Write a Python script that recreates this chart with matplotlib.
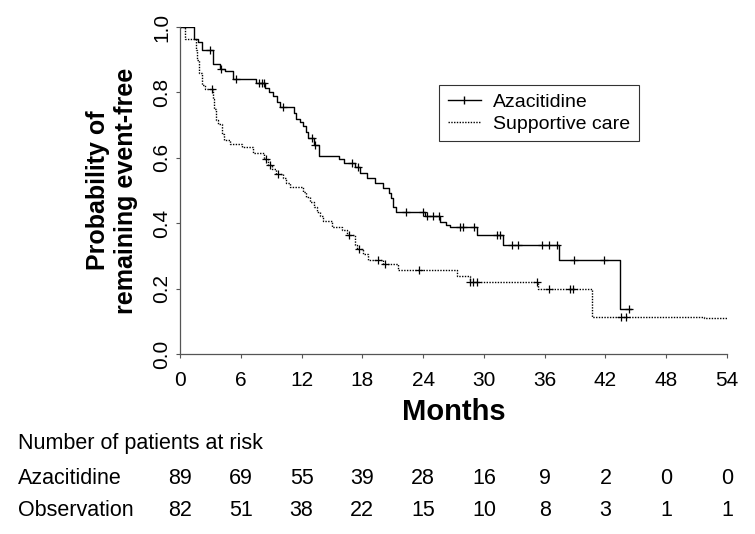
import numpy as np
import matplotlib.pyplot as plt
from matplotlib.transforms import blended_transform_factory

plt.rcParams['font.family'] = ['Liberation Sans', 'DejaVu Sans']

# Azacitidine: step times (months) and survival after each step
aza_t = [0, 1.4, 1.75, 2.14, 3.23, 3.95, 4.44, 5.26, 7.5, 8.4, 8.8, 9.2, 9.6, 9.9,
         11.25, 11.5, 11.8, 12.1, 12.4, 12.6, 13.2, 13.7, 15.7, 16.15, 17.3, 17.75,
         18.5, 19.25, 20.0, 20.6, 20.8, 21.05, 21.3, 24.2, 25.7, 26.3, 26.65, 29.35,
         31.9, 37.45, 43.4, 44.5]
aza_s = [1.0, 0.963, 0.953, 0.930, 0.886, 0.873, 0.866, 0.840, 0.828, 0.814, 0.800,
         0.789, 0.770, 0.756, 0.738, 0.720, 0.708, 0.696, 0.678, 0.661, 0.640, 0.606,
         0.596, 0.584, 0.571, 0.555, 0.537, 0.522, 0.507, 0.491, 0.476, 0.450, 0.435,
         0.421, 0.404, 0.395, 0.387, 0.363, 0.332, 0.286, 0.137, 0.137]
aza_cens = [2.96, 4.0, 5.5, 7.8, 8.05, 8.3, 10.2, 13.0, 13.3, 17.0, 17.6, 22.3, 24.0,
            24.4, 25.0, 25.6, 27.6, 27.9, 29.0, 31.3, 31.6, 32.8, 33.4, 35.7, 36.4,
            37.2, 38.9, 41.9, 44.3]

# Supportive care
sup_t = [0, 0.5, 1.6, 1.7, 1.9, 2.2, 2.5, 3.3, 3.4, 3.6, 3.8, 4.1, 4.3, 4.9, 6.1, 7.2,
         8.3, 8.7, 9.05, 9.5, 10.2, 10.5, 10.9, 12.1, 12.4, 12.8, 13.2, 13.5, 13.8,
         14.15, 15.0, 16.0, 16.5, 17.3, 17.5, 18.1, 18.6, 20.0, 21.55, 27.3, 28.6,
         35.3, 40.7, 51.7, 54.0]
sup_s = [1.0, 0.963, 0.930, 0.900, 0.860, 0.822, 0.811, 0.780, 0.748, 0.717, 0.702,
         0.672, 0.655, 0.643, 0.633, 0.616, 0.596, 0.578, 0.565, 0.551, 0.537, 0.523,
         0.510, 0.496, 0.481, 0.466, 0.451, 0.435, 0.421, 0.407, 0.389, 0.378, 0.365,
         0.332, 0.322, 0.305, 0.288, 0.276, 0.257, 0.240, 0.219, 0.199, 0.114, 0.110,
         0.110]
sup_cens = [3.2, 8.45, 8.9, 9.7, 16.7, 17.7, 19.5, 20.2, 23.6, 28.6, 28.9, 29.35,
            35.2, 36.4, 38.5, 38.8, 43.5, 44.0]

months = [0, 6, 12, 18, 24, 30, 36, 42, 48, 54]
aza_risk = [89, 69, 55, 39, 28, 16, 9, 2, 0, 0]
obs_risk = [82, 51, 38, 22, 15, 10, 8, 3, 1, 1]


def cens_y(t, s, c):
    t = np.array(t)
    idx = np.searchsorted(t, c, side='right') - 1
    return np.array(s)[idx]


fig = plt.figure(figsize=(7.55, 5.34), dpi=100)
ax = fig.add_axes([180 / 755, 1 - 354 / 534, 547 / 755, 327 / 534])

ax.step(aza_t, aza_s, where='post', color='black', lw=1.0)
ax.plot(aza_cens, cens_y(aza_t, aza_s, aza_cens), ls='none', marker='+',
        color='black', ms=6, mew=0.9)
ax.step(sup_t, sup_s, where='post', color='black', lw=1.0, ls=(0, (1, 1)))
ax.plot(sup_cens, cens_y(sup_t, sup_s, sup_cens), ls='none', marker='+',
        color='black', ms=6, mew=0.9)

# legend handles
h1, = ax.plot([], [], color='black', lw=1.0, marker='|', ms=6)
h2, = ax.plot([], [], color='black', lw=1.0, ls=(0, (1, 1)))
leg = ax.legend([h1, h2], ['Azacitidine', 'Supportive care'], loc='upper left',
                bbox_to_anchor=(0.4735, 0.823), borderaxespad=0, fontsize=14,
                frameon=True, fancybox=False, edgecolor='black',
                handlelength=1.7, borderpad=0.45, labelspacing=0.2,
                handletextpad=0.65)
leg.get_frame().set_linewidth(0.8)

ax.set_xlim(0, 54)
ax.set_ylim(0, 1.0)
ax.set_xticks(months)
ax.set_yticks([0, 0.2, 0.4, 0.6, 0.8, 1.0])
ax.set_yticklabels(['0.0', '0.2', '0.4', '0.6', '0.8', '1.0'], rotation=90,
                   va='center')
ax.tick_params(labelsize=15, length=3, width=0.8, direction='out', color='#555555')
ax.tick_params(axis='x', pad=9)
ax.spines['top'].set_visible(False)
ax.spines['right'].set_visible(False)
for sp in ['left', 'bottom']:
    ax.spines[sp].set_color('#555555')
    ax.spines[sp].set_linewidth(0.9)

ax.set_xlabel('Months', fontsize=21, fontweight='bold', labelpad=6)
ax.set_ylabel('Probability of\nremaining event-free', fontsize=18,
              fontweight='bold', labelpad=10)

# number at risk table
tr = blended_transform_factory(ax.transData, fig.transFigure)
fig.text(18 / 755, 1 - 443 / 534, 'Number of patients at risk', fontsize=15.5,
         va='center')
fig.text(18 / 755, 1 - 479 / 534, 'Azacitidine', fontsize=15.5, va='center')
fig.text(18 / 755, 1 - 511 / 534, 'Observation', fontsize=15.5, va='center')
for m, a, o in zip(months, aza_risk, obs_risk):
    ax.text(m, 1 - 479 / 534, str(a), transform=tr, fontsize=15.5, ha='center',
            va='center')
    ax.text(m, 1 - 511 / 534, str(o), transform=tr, fontsize=15.5, ha='center',
            va='center')

fig.savefig('out.png', dpi=100)
